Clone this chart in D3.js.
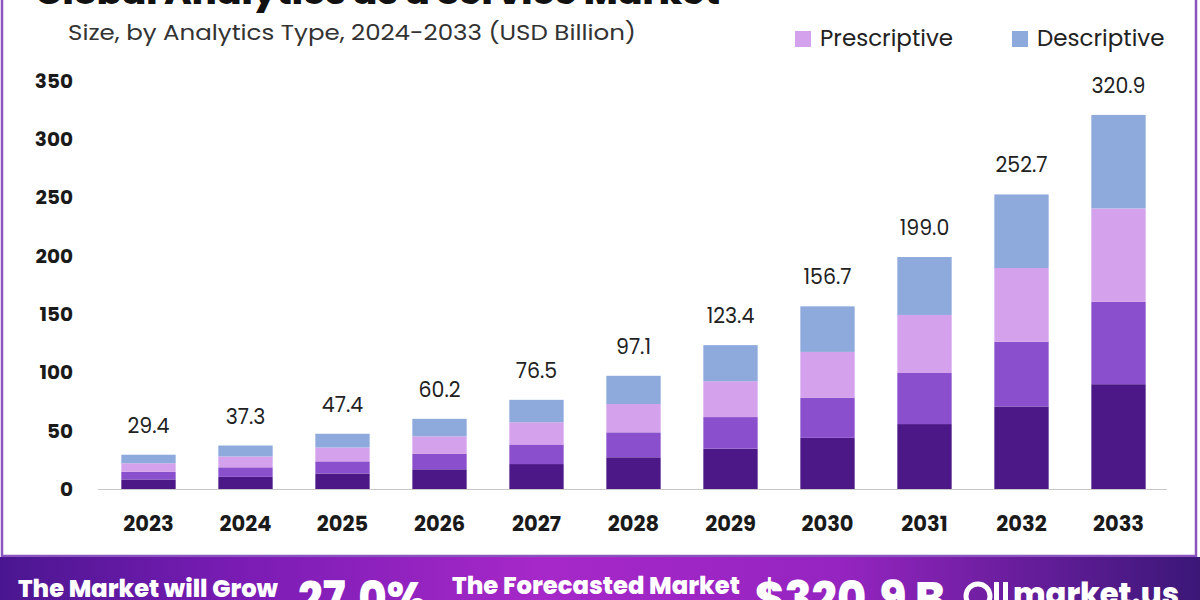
<!DOCTYPE html>
<html><head><meta charset="utf-8">
<script src="https://cdn.jsdelivr.net/npm/d3@7"></script>
<style>body{margin:0;background:#fff;}svg{display:block;}</style>
</head><body>
<svg id="c" width="1200" height="600"></svg>
<script>
const years = ["2023","2024","2025","2026","2027","2028","2029","2030","2031","2032","2033"];
const totals = [29.4,37.3,47.4,60.2,76.5,97.1,123.4,156.7,199.0,252.7,320.9];
const diagnostic   = [8.2,10.4,13.3,16.9,21.4,27.2,34.6,43.9,55.7,70.8,89.9];
const predictive   = [6.5,8.2,10.4,13.2,16.8,21.4,27.1,34.5,43.8,55.6,70.6];
const prescriptive = [7.4,9.3,11.9,15.1,19.1,24.3,30.8,39.2,49.8,63.2,80.2];
const descriptive  = [7.3,9.4,11.8,15.0,19.2,24.2,30.9,39.1,49.7,63.1,80.2];
const seriesNames = ["Diagnostic","Predictive","Prescriptive","Descriptive"];
const yTicks = [0,50,100,150,200,250,300,350];
const colors = {"Diagnostic":"#4c1786","Predictive":"#8a4fcc","Prescriptive":"#d4a2ec","Descriptive":"#8eaadc"};

const svg = d3.select("#c");
const FONT = "Poppins, Inter, 'Open Sans', sans-serif";

// frame
svg.append("rect").attr("x",0).attr("y",0).attr("width",1200).attr("height",600).attr("fill","#fff");
svg.append("rect").attr("x",2).attr("y",-5).attr("width",1194).attr("height",561)
  .attr("fill","none").attr("stroke","#8b55c0").attr("stroke-width",2.5);

const table = years.map((y,i)=>({year:y,Diagnostic:diagnostic[i],Predictive:predictive[i],Prescriptive:prescriptive[i],Descriptive:descriptive[i],total:totals[i]}));
const stack = d3.stack().keys(seriesNames)(table);

const x = d3.scaleBand().domain(years).range([100,1167]).paddingInner(0.44).paddingOuter(0.22);
const y = d3.scaleLinear().domain([0,350]).range([489,81]);

// axis line
svg.append("line").attr("x1",98).attr("x2",1167).attr("y1",489.5).attr("y2",489.5).attr("stroke","#c8c8c8").attr("stroke-width",1.2);

// bars
svg.append("g").selectAll("g").data(stack).join("g").attr("fill",d=>colors[d.key])
  .selectAll("rect").data(d=>d).join("rect")
  .attr("x",d=>x(d.data.year)).attr("width",x.bandwidth())
  .attr("y",d=>y(d[1])).attr("height",d=>y(d[0])-y(d[1]));

// value labels
svg.append("g").selectAll("text").data(table).join("text")
  .attr("x",d=>x(d.year)+x.bandwidth()/2).attr("y",d=>y(d.total)-22)
  .attr("text-anchor","middle").attr("font-family",FONT).attr("font-size",20.5).attr("fill","#222")
  .text(d=>d.total.toFixed(1));

// y axis
const yAxis = d3.axisLeft(y).tickValues(yTicks).tickSize(0).tickPadding(0);
const yg = svg.append("g").attr("transform","translate(73,0)").call(yAxis);
yg.select(".domain").remove();
yg.selectAll("text").attr("font-family",FONT).attr("font-size",20).attr("font-weight",700).attr("fill","#1a1a1a");

// x axis
const xAxis = d3.axisBottom(x).tickSize(0).tickPadding(0);
const xg = svg.append("g").attr("transform","translate(0,516)").call(xAxis);
xg.select(".domain").remove();
xg.selectAll("text").attr("font-family",FONT).attr("font-size",21).attr("font-weight",700).attr("fill","#1a1a1a");

// title
svg.append("text").attr("x",35).attr("y",4).attr("font-family",FONT).attr("font-size",34).attr("font-weight",800)
  .attr("fill","#111").attr("textLength",685).attr("lengthAdjust","spacingAndGlyphs").text("Global Analytics as a Service Market");
svg.append("text").attr("x",68).attr("y",40).attr("font-family",FONT).attr("font-size",22).attr("fill","#333")
  .attr("textLength",568).attr("lengthAdjust","spacingAndGlyphs").text("Size, by Analytics Type, 2024-2033 (USD Billion)");

// legend
const legendItems = [
  {name:"Predictive",x:795,y:-6},{name:"Diagnostic",x:1012,y:-6},
  {name:"Prescriptive",x:795,y:46},{name:"Descriptive",x:1012,y:46}];
const lg = svg.append("g").selectAll("g").data(legendItems).join("g");
lg.append("rect").attr("x",d=>d.x).attr("y",d=>d.y-15).attr("width",16).attr("height",16).attr("fill",d=>colors[d.name]);
lg.append("text").attr("x",d=>d.x+25).attr("y",d=>d.y).attr("font-family",FONT).attr("font-size",23).attr("fill","#222").text(d=>d.name);

// banner
const defs = svg.append("defs");
const grad = defs.append("linearGradient").attr("id","bg").attr("x1","0%").attr("x2","100%");
[["0%","#4a1690"],["20%","#7a1cb4"],["45%","#a628c8"],["70%","#9524c0"],["100%","#3b1778"]].forEach(s=>grad.append("stop").attr("offset",s[0]).attr("stop-color",s[1]));
svg.append("rect").attr("x",0).attr("y",557).attr("width",1200).attr("height",43).attr("fill","url(#bg)");
const bt = (t,xx,yy,fs,w)=>svg.append("text").attr("x",xx).attr("y",yy).attr("font-family",FONT).attr("font-size",fs)
  .attr("font-weight",800).attr("fill","#fff").attr("textLength",w).attr("lengthAdjust","spacingAndGlyphs").text(t);
bt("The Market will Grow",18,597,25,260);
bt("27.0%",298,614,46,128);
bt("The Forecasted Market",452,594,25,288);
bt("$320.9 B",755,614,46,190);
bt("market.us",1013,605,32,166);
// logo icon
svg.append("circle").attr("cx",978).attr("cy",596).attr("r",12).attr("fill","none").attr("stroke","#fff").attr("stroke-width",5);
svg.append("rect").attr("x",994).attr("y",582).attr("width",5).attr("height",20).attr("fill","#fff");
svg.append("rect").attr("x",1003).attr("y",582).attr("width",5).attr("height",20).attr("fill","#fff");
</script>
</body></html>
